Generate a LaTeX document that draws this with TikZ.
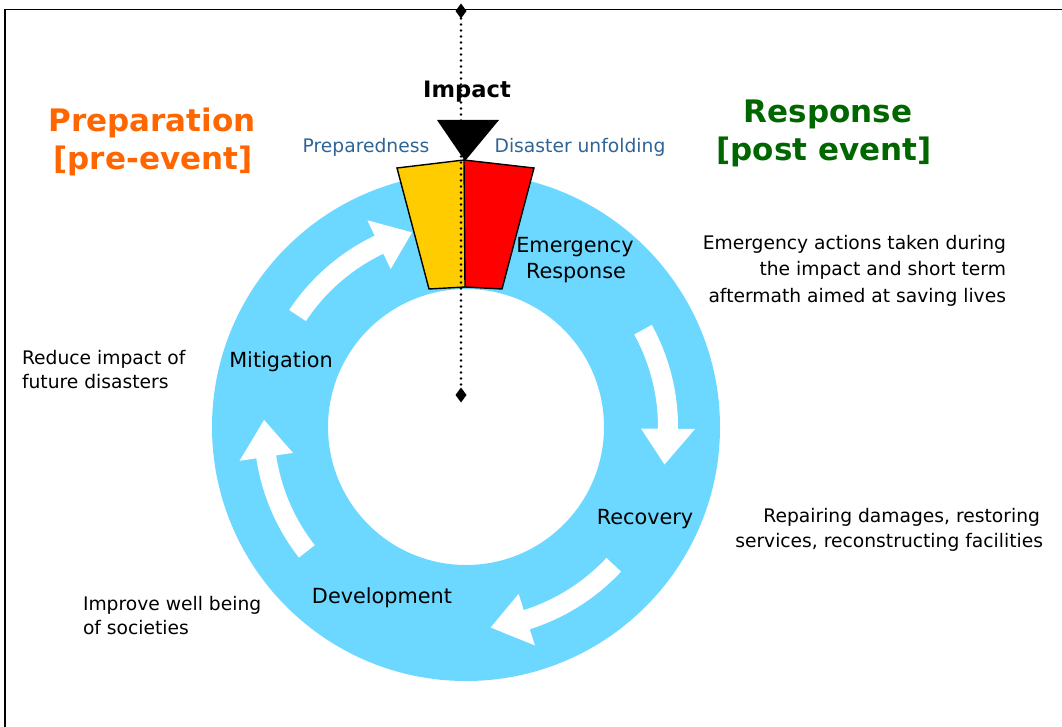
\documentclass[tikz,border=0pt]{standalone}
\usepackage{fontspec}
\setmainfont{DejaVu Sans}
\usetikzlibrary{shapes.geometric}
\definecolor{ringblue}{HTML}{6DD8FF}
\definecolor{wedgeyellow}{HTML}{FFCC00}
\definecolor{wedgered}{HTML}{FF0000}
\definecolor{preporange}{HTML}{FF6600}
\definecolor{respgreen}{HTML}{006600}
\definecolor{phaseblue}{HTML}{2F6496}
\tikzset{
  titletext/.style={font=\bfseries\fontsize{31}{38}\selectfont, anchor=base},
  phasetext/.style={font=\fontsize{18.7}{24}\selectfont, text=phaseblue, anchor=base},
  ringtext/.style={font=\fontsize{20.8}{26}\selectfont, anchor=base},
  sidetext/.style={font=\fontsize{18.7}{26}\selectfont},
  dotline/.style={line width=2.8pt, dash pattern=on 0pt off 6pt, line cap=round},
  endmark/.style={diamond, fill=black, inner sep=0pt, minimum width=11pt, minimum height=15pt},
  wedgepart/.style={draw=black, line width=1.4pt, line join=miter},
  cyclearrow/.style={fill=white}
}
\newcommand\cyclearrowpath[3]{%
  \fill[cyclearrow] ({-#1}:212) arc[start angle={-#1}, end angle={-#2}, radius=212]
    -- ({-#2}:229) -- ({-#3}:202) -- ({-#2}:175) -- ({-#2}:192)
    arc[start angle={-#2}, end angle={-#1}, radius=192] -- cycle;}
\begin{document}
\begin{tikzpicture}[x=1pt, y=-1pt, every node/.style={inner sep=0pt, outer sep=0pt}]
\useasboundingbox (0,0) rectangle (1062,727);
% frame
\draw[line width=1.5pt] (5,727) -- (5,9.5) -- (1062,9.5);
% ring
\fill[ringblue, even odd rule] (466,427) circle[radius=254] (466,427) circle[radius=138];
% arrows
\begin{scope}[shift={(466,427)}]
  \cyclearrowpath{146.5}{115.5}{105.5}
  \cyclearrowpath{28.8}{-0.5}{-10.7}
  \cyclearrowpath{-43}{-72.5}{-83}
  \cyclearrowpath{218}{188.5}{178}
\end{scope}
% wedge
\fill[wedgeyellow] (397,168) -- (464,160) -- (465,287) -- (429,289) -- cycle;
\fill[wedgered] (464,160) -- (534,168) -- (502,289) -- (465,287) -- cycle;
\draw[wedgepart] (464,160) -- (397,168) -- (429,289) -- (465,287);
\draw[wedgepart] (464,160) -- (534,168) -- (502,289) -- (465,287) -- cycle;
% impact triangle
\fill[black] (437,120) -- (499,120) -- (465,161) -- cycle;
% dotted axis
\node[endmark] (axtop) at (461,11) {};
\node[endmark] (axbot) at (461,395) {};
\draw[dotline] (axtop) -- (axbot);
% titles
\node[titletext, text=preporange] (prep1) at (152,132) {Preparation};
\node[titletext, text=preporange] (prep2) at (153,170) {[pre-event]};
\node[titletext, text=respgreen] (resp1) at (828,123) {Response};
\node[titletext, text=respgreen] (resp2) at (824,161) {[post event]};
\node[font=\bfseries\fontsize{22.6}{26}\selectfont, anchor=base] (impact) at (467,98) {Impact};
\node[phasetext] (prepd) at (366,153) {Preparedness};
\node[phasetext] (unfold) at (580,153) {Disaster unfolding};
% ring labels
\node[ringtext] (emer1) at (575,252) {Emergency};
\node[ringtext] (emer2) at (576,278) {Response};
\node[ringtext] (mitig) at (281,367) {Mitigation};
\node[ringtext] (recov) at (645,524) {Recovery};
\node[ringtext] (devel) at (382,603) {Development};
% side descriptions
\node[sidetext, anchor=base east] (d1a) at (1006,250) {Emergency actions taken during};
\node[sidetext, anchor=base east] (d1b) at (1006,276) {the impact and short term};
\node[sidetext, anchor=base east] (d1c) at (1006,302) {aftermath aimed at saving lives};
\node[sidetext, anchor=base east] (d2a) at (1040,522) {Repairing damages, restoring};
\node[sidetext, anchor=base east] (d2b) at (1043,547) {services, reconstructing facilities};
\node[sidetext, anchor=base west] (d3a) at (22,364) {Reduce impact of};
\node[sidetext, anchor=base west] (d3b) at (22,388) {future disasters};
\node[sidetext, anchor=base west] (d4a) at (83,610) {Improve well being};
\node[sidetext, anchor=base west] (d4b) at (83,634) {of societies};
\end{tikzpicture}
\end{document}
